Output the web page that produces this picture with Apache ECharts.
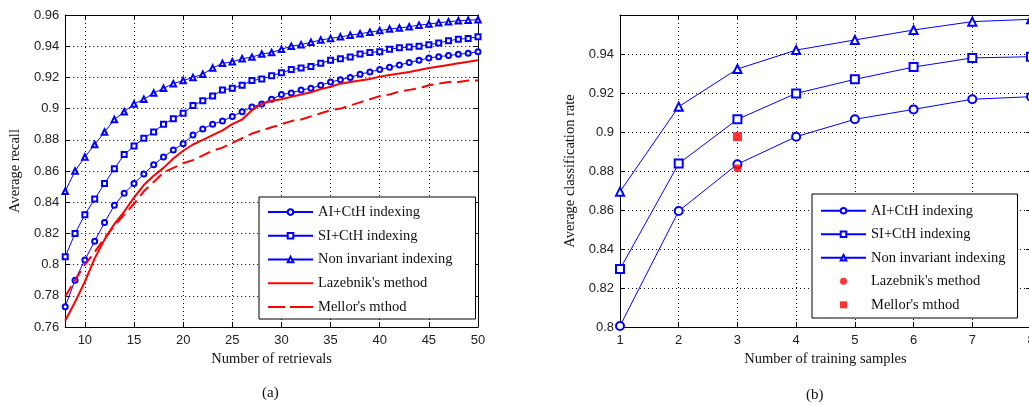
<!DOCTYPE html>
<html><head><meta charset="utf-8">
<script src="https://cdn.jsdelivr.net/npm/echarts@6/dist/echarts.min.js"></script>
<style>
html,body{margin:0;padding:0;overflow:hidden;background:#fff;width:1029px;height:405px}
#a{position:absolute;left:0;top:0;width:530px;height:405px}
#b{position:absolute;left:530px;top:0;width:520px;height:405px}
</style></head><body><div id="a"></div><div id="b"></div>
<script>
// ---------- (a) data ----------
const retrievals = [8,9,10,11,12,13,14,15,16,17,18,19,20,21,22,23,24,25,26,27,28,29,30,31,32,33,34,35,36,37,38,39,40,41,42,43,44,45,46,47,48,49,50];
const retrievalTicks = [10,15,20,25,30,35,40,45,50];
const aiCthA = [0.773,0.790,0.803,0.815,0.827,0.838,0.8457,0.852,0.858,0.864,0.869,0.8735,0.8775,0.883,0.887,0.890,0.892,0.895,0.898,0.901,0.903,0.906,0.909,0.910,0.912,0.913,0.915,0.917,0.9185,0.920,0.922,0.9235,0.925,0.9265,0.928,0.9295,0.931,0.9325,0.9333,0.934,0.9348,0.9355,0.9365];
const siCthA = [0.805,0.820,0.832,0.842,0.852,0.8615,0.8705,0.876,0.881,0.885,0.890,0.8935,0.897,0.902,0.905,0.908,0.912,0.913,0.915,0.918,0.919,0.921,0.923,0.925,0.926,0.927,0.929,0.931,0.932,0.933,0.935,0.936,0.9365,0.938,0.939,0.9395,0.940,0.941,0.942,0.9435,0.9445,0.945,0.946];
const nonInvA = [0.847,0.860,0.869,0.877,0.885,0.893,0.898,0.903,0.906,0.910,0.913,0.916,0.918,0.920,0.922,0.926,0.929,0.930,0.932,0.933,0.935,0.936,0.938,0.940,0.941,0.9425,0.944,0.945,0.946,0.947,0.948,0.949,0.950,0.951,0.9517,0.9525,0.9535,0.9542,0.955,0.9557,0.9563,0.9567,0.957];
const lazebnikA = [0.764,0.776,0.789,0.804,0.816,0.826,0.834,0.843,0.851,0.857,0.862,0.868,0.873,0.877,0.880,0.883,0.886,0.890,0.893,0.899,0.903,0.905,0.906,0.9075,0.909,0.9105,0.9125,0.914,0.916,0.917,0.918,0.919,0.9205,0.9215,0.9225,0.9235,0.9248,0.926,0.927,0.928,0.929,0.930,0.931];
const mellorA = [0.7795,0.790,0.800,0.808,0.817,0.825,0.832,0.839,0.847,0.853,0.859,0.862,0.865,0.867,0.870,0.873,0.875,0.878,0.881,0.884,0.886,0.888,0.890,0.892,0.893,0.895,0.897,0.899,0.900,0.902,0.904,0.906,0.908,0.909,0.911,0.912,0.913,0.915,0.916,0.917,0.917,0.918,0.918];
const recallTicks = [0.76,0.78,0.80,0.82,0.84,0.86,0.88,0.90,0.92,0.94,0.96];

// ---------- (b) data ----------
const samples = [1,2,3,4,5,6,7,8];
const aiCthB = [0.8005,0.8595,0.8835,0.8976,0.9065,0.9116,0.9168,0.9181];
const siCthB = [0.8297,0.8838,0.9065,0.9198,0.927,0.9333,0.938,0.9386];
const nonInvB = [0.8694,0.913,0.9323,0.942,0.9472,0.9523,0.9566,0.9578];
const lazebnikB = [[3,0.8814]];
const mellorB = [[3,0.8976]];
const rateTicks = [0.80,0.82,0.84,0.86,0.88,0.90,0.92,0.94];

const names = ['AI+CtH indexing','SI+CtH indexing','Non invariant indexing',"Lazebnik's method","Mellor's mthod"];

function pairs(xs, ys){ return xs.map((x,i)=>[x,ys[i]]); }

const BLUE = '#0000ff', RED = '#ff0000';
const tickFont = {color:'#222', fontFamily:'Liberation Sans', fontSize:13};
const serif = 'Liberation Serif';

function mainX(min,max,ticks,name,extra){
  return Object.assign({
    type:'value', min:min, max:max, position:'bottom',
    name:name, nameLocation:'middle', nameGap:22,
    nameTextStyle:{fontFamily:serif, fontSize:14.5, color:'#111'},
    axisLine:{show:true, onZero:false, lineStyle:{color:'#000', width:1}},
    axisTick:{show:true, inside:true, length:5, customValues:ticks, lineStyle:{color:'#000'}},
    axisLabel:Object.assign({margin:7, customValues:ticks}, tickFont),
    splitLine:{show:true, lineStyle:{color:'#000', type:[1,3], width:1}}
  }, extra||{});
}
function topX(min,max,ticks){
  return {type:'value', min:min, max:max, position:'top',
    axisLine:{show:true, lineStyle:{color:'#000', width:1}},
    axisTick:{show:true, inside:true, length:5, customValues:ticks, lineStyle:{color:'#000'}},
    axisLabel:{show:false}, splitLine:{show:false}};
}
function mainY(min,max,ticks,name,extra){
  return Object.assign({
    type:'value', min:min, max:max, position:'left',
    name:name, nameLocation:'middle', nameGap:40,
    nameTextStyle:{fontFamily:serif, fontSize:14.5, color:'#111'},
    axisLine:{show:true, onZero:false, lineStyle:{color:'#000', width:1}},
    axisTick:{show:true, inside:true, length:5, customValues:ticks, lineStyle:{color:'#000'}},
    axisLabel:Object.assign({margin:6, customValues:ticks, formatter:v=>String(+v.toFixed(2))}, tickFont),
    splitLine:{show:true, lineStyle:{color:'#000', type:[1,3], width:1}}
  }, extra||{});
}
function rightY(min,max,ticks){
  return {type:'value', min:min, max:max, position:'right',
    axisLine:{show:true, lineStyle:{color:'#000', width:1}},
    axisTick:{show:true, inside:true, length:5, customValues:ticks, lineStyle:{color:'#000'}},
    axisLabel:{show:false}, splitLine:{show:false}};
}
function blueLine(name, data, symbol, size){
  return {name:name, type:'line', data:data, symbol:symbol, symbolSize:size,
    lineStyle:{color:BLUE, width:1}, itemStyle:{color:BLUE, borderWidth:1}, z:2};
}
const solidIcon = 'path://M0,0H45V2H0Z';
const dashIcon = 'path://M0,0H17V2H0Z M22,0H45V2H22Z';
function legendOpt(left, top, padding, gap, redIcons){
  const data = names.map((n,i)=>{
    const d = {name:n};
    if (redIcons && i===3) d.icon = solidIcon;
    if (redIcons && i===4) d.icon = dashIcon;
    return d;
  });
  return {show:true, orient:'vertical', left:left, top:top, data:data,
    itemWidth:45, itemHeight:7, itemGap:gap, padding:padding,
    borderColor:'#000', borderWidth:1, backgroundColor:'#fff',
    textStyle:{fontFamily:serif, fontSize:14.5, color:'#111'},
    selectedMode:false};
}

// ---------- chart (a) ----------
const ca = echarts.init(document.getElementById('a'), null, {renderer:'canvas'});
ca.setOption({
  animation:false,
  title:{text:'(a)', left:257, top:381, textStyle:{fontFamily:serif, fontSize:15, fontWeight:'normal', color:'#111'}},
  grid:{left:64, top:15, width:414, height:312, show:false},
  legend:legendOpt(259, 197, [7.6,23,4.6,8], 8.7, true),
  xAxis:[mainX(8,50,retrievalTicks,'Number of retrievals'), topX(8,50,retrievalTicks)],
  yAxis:[mainY(0.76,0.96,recallTicks,'Average recall'), rightY(0.76,0.96,recallTicks)],
  series:[
    blueLine(names[0], pairs(retrievals, aiCthA), 'emptyCircle', 5),
    blueLine(names[1], pairs(retrievals, siCthA), 'emptyRect', 5),
    blueLine(names[2], pairs(retrievals, nonInvA), 'emptyTriangle', 5.5),
    {name:names[3], type:'line', data:pairs(retrievals, lazebnikA), symbol:'none', z:3,
      lineStyle:{color:RED, width:2}, itemStyle:{color:RED}},
    {name:names[4], type:'line', data:pairs(retrievals, mellorA), symbol:'none', z:3,
      lineStyle:{color:RED, width:2, type:[12,6]}, itemStyle:{color:RED}}
  ]
});

// ---------- chart (b) ----------
const cb = echarts.init(document.getElementById('b'), null, {renderer:'canvas'});
cb.setOption({
  animation:false,
  title:{text:'(b)', left:271, top:383, textStyle:{fontFamily:serif, fontSize:15, fontWeight:'normal', color:'#111'}},
  grid:{left:90, top:15, width:411, height:312, show:false},
  legend:legendOpt(282, 194, [9.3,12,5.7,8], 8.5, false),
  xAxis:[mainX(1,8,samples,'Number of training samples'), topX(1,8,samples)],
  yAxis:[mainY(0.80,0.96,rateTicks,'Average classification rate',{nameGap:40}), rightY(0.80,0.96,rateTicks)],
  series:[
    blueLine(names[0], pairs(samples, aiCthB), 'emptyCircle', 8),
    blueLine(names[1], pairs(samples, siCthB), 'emptyRect', 8),
    blueLine(names[2], pairs(samples, nonInvB), 'emptyTriangle', 8),
    {name:names[3], type:'scatter', data:lazebnikB, symbol:'circle', symbolSize:8, z:4,
      itemStyle:{color:RED}},
    {name:names[4], type:'scatter', data:mellorB, symbol:'path://M0,0L10,0L10,10L0,10Z', symbolSize:9, z:4,
      itemStyle:{color:RED}}
  ]
});
</script></body></html>
